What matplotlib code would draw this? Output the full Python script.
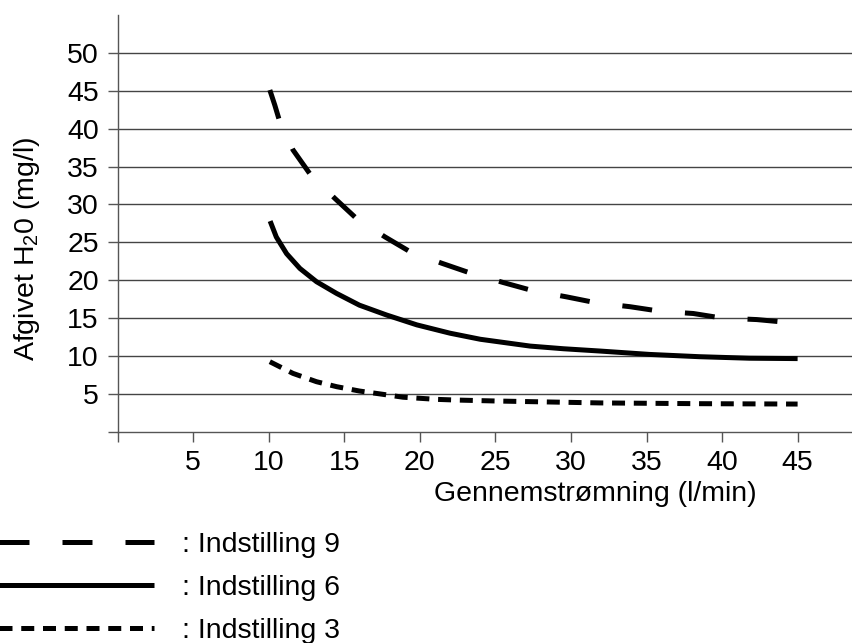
import matplotlib
matplotlib.use("Agg")
import matplotlib.pyplot as plt

plt.rcParams['font.family'] = ['Liberation Sans', 'DejaVu Sans']
plt.rcParams['mathtext.fontset'] = 'custom'
plt.rcParams['mathtext.rm'] = 'Liberation Sans'
plt.rcParams['mathtext.default'] = 'regular'

x9 = [10.07, 10.4, 10.67, 11.6, 12.7, 14.37, 15.8, 17.7, 19.4, 21.5, 23.4, 25.5,
      27.5, 29.7, 31.7, 33.9, 35.9, 38.1, 40.0, 42.3, 45]
y9 = [45.1, 43.1, 41.3, 37.2, 34.1, 30.8, 28.15, 25.7, 23.7, 22.2, 20.9, 19.7,
      18.6, 17.8, 17.0, 16.5, 15.9, 15.6, 15.0, 14.8, 14.3]

x6 = [10.09, 10.5, 11.18, 12.06, 13.16, 14.48, 16.0, 17.8, 19.8, 22.0, 24.0,
      27.3, 29.5, 31.9, 35.2, 38.5, 41.8, 45]
y6 = [27.8, 25.7, 23.5, 21.55, 19.8, 18.26, 16.7, 15.4, 14.1, 13.0, 12.2,
      11.3, 10.95, 10.65, 10.2, 9.9, 9.7, 9.65]

x3 = [10.07, 11.6, 13.16, 14.5, 16.0, 17.57, 18.9, 21.1, 22.4, 25.1, 31.9, 38.5, 45]
y3 = [9.24, 7.7, 6.6, 5.94, 5.37, 4.93, 4.55, 4.27, 4.18, 4.05, 3.8, 3.7, 3.65]

xticks = [5, 10, 15, 20, 25, 30, 35, 40, 45]
yticks = [5, 10, 15, 20, 25, 30, 35, 40, 45, 50]

fs = 20.5

fig = plt.figure(figsize=(8.52, 6.43), dpi=100)
ax = fig.add_axes([0.1381, 0.3286, 0.8619, 0.6481])

lw = 3.6
ax.plot(x9, y9, color='black', lw=lw, dashes=(6.0, 6.6), dash_capstyle='butt',
        label=': Indstilling 9')
ax.plot(x6, y6, color='black', lw=lw, solid_capstyle='butt', label=': Indstilling 6')
ax.plot(x3, y3, color='black', lw=lw, dashes=(2.6, 1.75), dash_capstyle='butt',
        label=': Indstilling 3')

ax.set_xlim(0, 48.6)
ax.set_ylim(0, 55)

for y in yticks:
    ax.axhline(y, color='#444444', lw=1.0, zorder=0)

ax.set_xticks([0] + xticks)
ax.set_xticklabels([''] + [str(v) for v in xticks])
ax.set_yticks([0] + yticks)
ax.set_yticklabels([''] + [str(v) for v in yticks])
ax.tick_params(direction='out', length=7.5, width=1.0, color='#555555',
               labelsize=fs, pad=6)

for s in ['top', 'right']:
    ax.spines[s].set_visible(False)
for s in ['left', 'bottom']:
    ax.spines[s].set_color('#555555')
    ax.spines[s].set_linewidth(1.0)

fig.text(595.5 / 852, 1 - 494 / 643, 'Gennemstrømning (l/min)', fontsize=fs,
         ha='center', va='center')
fig.text(27 / 852, 1 - 249 / 643, 'Afgivet H$_2$0 (mg/l)', fontsize=fs,
         ha='center', va='center', rotation=90)

leg = ax.legend(loc='upper left', bbox_to_anchor=(-5 / 852, 1 - 532 / 643),
                bbox_transform=fig.transFigure, frameon=False, fontsize=fs,
                handlelength=5.6, handletextpad=0.98, labelspacing=0.6,
                borderpad=0, borderaxespad=0)

fig.savefig('out.png', dpi=100)
